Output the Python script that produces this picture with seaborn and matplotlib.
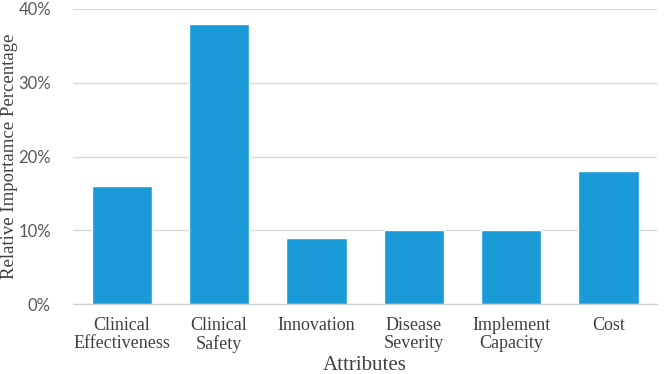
import pandas as pd
import numpy as np
import matplotlib.pyplot as plt
import seaborn as sns
from matplotlib.ticker import PercentFormatter

sns.set_style("whitegrid")

attributes = ["Clinical\nEffectiveness", "Clinical\nSafety", "Innovation",
              "Disease\nSeverity", "Implement\nCapacity", "Cost"]
importance = [16, 38, 9, 10, 10, 18]

df = pd.DataFrame({"attribute": attributes, "importance": importance})

fig = plt.figure(figsize=(6.65, 3.74), dpi=100)
ax = fig.add_axes([0.110, 0.187, 0.878, 0.789])
sns.barplot(data=df, x="attribute", y="importance", color="#1a9ad6",
            width=0.62, saturation=1, ax=ax)

ax.set_ylim(0, 40)
ax.set_yticks([0, 10, 20, 30, 40])
ax.yaxis.set_major_formatter(PercentFormatter(decimals=0))
ax.grid(axis="y", color="#d9d9d9", linewidth=1)
ax.grid(axis="x", visible=False)
for s in ["left", "right", "top"]:
    ax.spines[s].set_visible(False)
ax.spines["bottom"].set_color("#d0d0d0")
ax.tick_params(axis="y", length=0, pad=16, labelsize=12, labelcolor="#595959")
ax.tick_params(axis="x", length=0, pad=9)
for lab in ax.get_yticklabels():
    lab.set_family("Lato")
for lab in ax.get_xticklabels():
    lab.set_family("Liberation Serif")
    lab.set_fontsize(13)
    lab.set_color("#404040")
    lab.set_linespacing(1.1)

ax.set_xlabel("Attributes", family="Liberation Serif", fontsize=15,
              color="#404040", labelpad=2)
ax.set_ylabel("Relative Importamce Percentage", family="Liberation Serif",
              fontsize=13.5, color="#404040")
ax.yaxis.set_label_coords(-0.094, 0.5)

fig.savefig("out.png", dpi=100)
